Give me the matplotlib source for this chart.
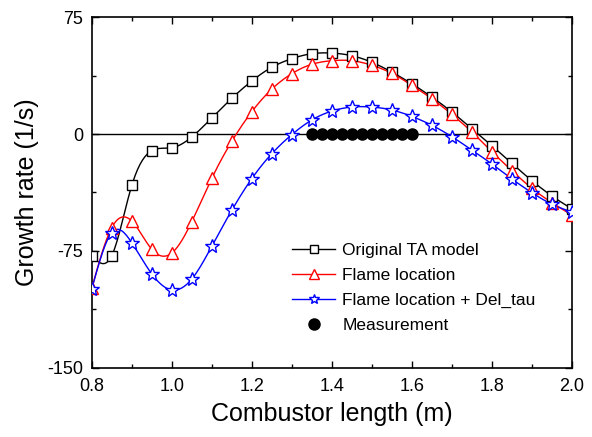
import numpy as np
import matplotlib.pyplot as plt
from matplotlib.ticker import MultipleLocator

plt.rcParams['font.family'] = ['Liberation Sans', 'DejaVu Sans']
plt.rcParams['axes.unicode_minus'] = False

length = [0.80, 0.85, 0.90, 0.95, 1.00, 1.05, 1.10, 1.15, 1.20, 1.25, 1.30,
          1.35, 1.40, 1.45, 1.50, 1.55, 1.60, 1.65, 1.70, 1.75, 1.80, 1.85,
          1.90, 1.95, 2.00]
original_ta = [-78, -78, -33, -10.7, -8.8, -1.9, 10.3, 22.9, 34.0, 42.8, 48.3,
               51.5, 51.9, 50.2, 46.0, 39.7, 32.2, 23.7, 14.1, 3.4, -7.5, -18.8,
               -29.9, -39.7, -48]
flame_loc = [-99, -60, -55.8, -73.9, -76.3, -56.2, -28.4, -4.7, 14.3, 28.8, 38.7,
             44.7, 47.0, 47.0, 44.1, 38.9, 31.2, 22.6, 12.6, 1.3, -11.3, -23.5,
             -34.8, -44, -52]
flame_del = [-99.4, -63.2, -69.7, -89.7, -100, -93, -72, -48.9, -28.6, -12.6, -0.4,
             9.0, 14.7, 17.3, 17.3, 15.4, 11.3, 5.6, -1.7, -10.3, -19.2, -28.8,
             -37.6, -45, -50]
meas_x = [1.35, 1.375, 1.40, 1.425, 1.45, 1.475, 1.50, 1.525, 1.55, 1.575, 1.60]
meas_y = [0] * len(meas_x)


def spline_line(x, y, n=400):
    # natural cubic spline, used only to draw the smooth connecting line
    x = np.asarray(x, float)
    y = np.asarray(y, float)
    h = np.diff(x)
    m = len(x)
    A = np.zeros((m, m))
    b = np.zeros(m)
    A[0, 0] = A[-1, -1] = 1
    for i in range(1, m - 1):
        A[i, i - 1] = h[i - 1]
        A[i, i] = 2 * (h[i - 1] + h[i])
        A[i, i + 1] = h[i]
        b[i] = 6 * ((y[i + 1] - y[i]) / h[i] - (y[i] - y[i - 1]) / h[i - 1])
    M = np.linalg.solve(A, b)
    xs = np.linspace(x[0], x[-1], n)
    k = np.clip(np.searchsorted(x, xs) - 1, 0, m - 2)
    t0 = x[k + 1] - xs
    t1 = xs - x[k]
    hk = h[k]
    ys = (M[k] * t0 ** 3 / (6 * hk) + M[k + 1] * t1 ** 3 / (6 * hk)
          + (y[k] / hk - M[k] * hk / 6) * t0 + (y[k + 1] / hk - M[k + 1] * hk / 6) * t1)
    return xs, ys


fig = plt.figure(figsize=(5.92, 4.37), dpi=100)
ax = fig.add_axes([0.155, 0.158, 0.811, 0.803])

ax.axhline(0, color='black', lw=1.0, zorder=1)

series = [
    (original_ta, 'black', 's', 7, 'Original TA model'),
    (flame_loc, 'red', '^', 9, 'Flame location'),
    (flame_del, 'blue', '*', 10, 'Flame location + Del_tau'),
]
for vals, col, mk, ms, lab in series:
    xs, ys = spline_line(length, vals)
    ax.plot(xs, ys, color=col, lw=1.0, zorder=2)
    ax.plot(length, vals, ls='none', marker=mk, ms=ms, mfc='white', mec=col,
            mew=1.0, zorder=3)
    ax.plot([], [], color=col, lw=1.0, marker=mk, ms=ms * 0.75, mfc='white',
            mec=col, mew=1.0, label=lab)

ax.plot(meas_x, meas_y, ls='none', marker='o', ms=8, color='black', zorder=4,
        label='Measurement')

ax.set_xlim(0.8, 2.0)
ax.set_ylim(-150, 75)
ax.xaxis.set_major_locator(MultipleLocator(0.2))
ax.xaxis.set_minor_locator(MultipleLocator(0.1))
ax.yaxis.set_major_locator(MultipleLocator(75))
ax.yaxis.set_minor_locator(MultipleLocator(37.5))
ax.xaxis.set_major_formatter(plt.FormatStrFormatter('%.1f'))
ax.tick_params(which='both', direction='in', top=True, right=True, labelsize=13)
ax.tick_params(which='major', length=5, width=1)
ax.tick_params(which='minor', length=3, width=1)
ax.tick_params(axis='x', pad=7)
ax.tick_params(axis='y', pad=6)
for sp in ax.spines.values():
    sp.set_linewidth(1.2)

ax.set_xlabel('Combustor length (m)', fontsize=18, labelpad=5)
ax.set_ylabel('Growth rate (1/s)', fontsize=18, labelpad=6)

ax.legend(loc='upper left', bbox_to_anchor=(0.417, 0.357), frameon=False,
          fontsize=12.5, handlelength=2.5, labelspacing=0.56, handletextpad=0.4,
          borderpad=0, borderaxespad=0)

plt.savefig('out.png', dpi=100)
